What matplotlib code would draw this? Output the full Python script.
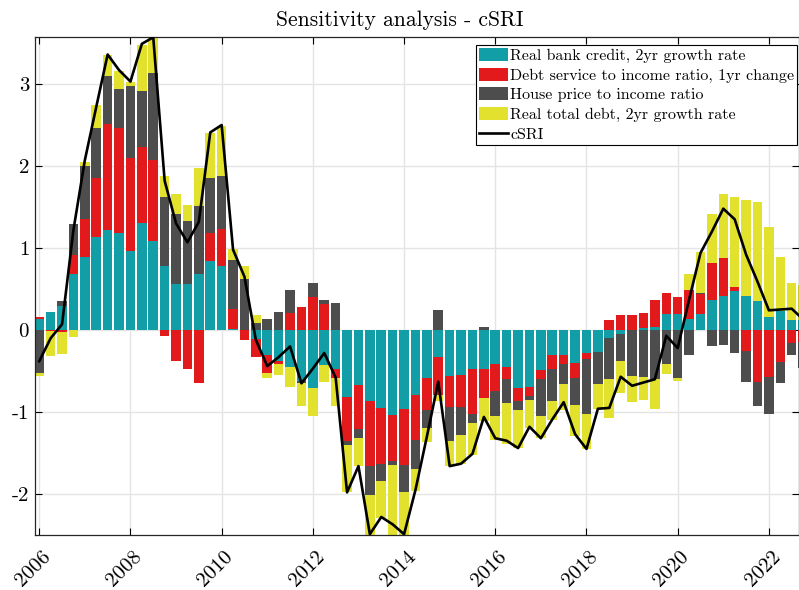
import numpy as np
import matplotlib
matplotlib.use("Agg")
import matplotlib.pyplot as plt
import matplotlib.transforms as mtransforms

plt.rcParams["font.family"] = "serif"
plt.rcParams["font.serif"] = ["cmr10"]
plt.rcParams["mathtext.fontset"] = "cm"
plt.rcParams["axes.unicode_minus"] = False
plt.rcParams["axes.formatter.use_mathtext"] = False

# quarterly dates, 2006Q1 .. 2022Q4
dates = 2006 + np.arange(68) * 0.25

bank_credit = [0.14, 0.22, 0.29, 0.68, 0.89, 1.14, 1.22, 1.18, 0.96, 1.31, 1.09, 0.78,
               0.56, 0.56, 0.68, 0.84, 0.78, 0.01, 0.00, -0.11, -0.30, -0.38, -0.45, -0.62,
               -0.71, -0.43, -0.47, -0.82, -0.67, -0.86, -0.95, -1.04, -0.96, -0.79, -0.59, -0.33,
               -0.56, -0.55, -0.48, -0.47, -0.42, -0.45, -0.71, -0.70, -0.49, -0.31, -0.31, -0.40,
               -0.28, -0.27, -0.10, -0.05, 0.00, 0.03, 0.04, 0.19, 0.20, 0.13, 0.19, 0.36,
               0.42, 0.48, 0.42, 0.35, 0.16, 0.23, 0.12, 0.12]
debt_service = [0.02, -0.01, -0.03, 0.23, 0.46, 0.72, 1.29, 1.28, 1.14, 0.92, 0.98, -0.07,
                -0.38, -0.48, -0.65, 0.34, 0.45, 0.25, -0.12, -0.22, -0.22, -0.04, 0.21, 0.28,
                0.40, 0.32, -0.12, -0.53, -0.54, -0.80, -0.69, -0.56, -0.69, -0.55, -0.38, -0.46,
                -0.38, -0.39, -0.55, -0.36, -0.32, -0.15, -0.15, -0.11, -0.11, -0.17, -0.11, -0.18,
                -0.07, 0.00, 0.12, 0.18, 0.18, 0.18, 0.32, 0.26, 0.20, 0.36, 0.25, 0.46,
                0.46, 0.05, -0.25, -0.64, -0.57, -0.39, -0.16, -0.15]
house_price = [-0.52, 0.00, 0.06, 0.38, 0.65, 0.60, 0.59, 0.48, 0.87, 0.68, 1.07, 0.84,
               0.86, 0.77, 0.83, 0.67, 0.65, 0.60, 0.62, 0.09, 0.14, 0.22, 0.28, -0.03,
               0.17, 0.04, 0.33, -0.05, -0.11, -0.35, -0.20, -0.05, -0.32, -0.36, -0.22, 0.25,
               -0.41, -0.34, -0.11, 0.04, -0.31, -0.29, -0.11, -0.04, -0.45, -0.39, -0.24, -0.34,
               -0.67, -0.39, -0.50, -0.33, -0.56, -0.57, -0.60, -0.41, -0.58, -0.31, 0.01, -0.19,
               -0.18, -0.28, -0.39, -0.29, -0.46, -0.26, -0.15, -0.31]
total_debt = [-0.04, -0.31, -0.26, -0.09, 0.05, 0.28, 0.26, 0.22, 0.05, 0.57, 0.45, 0.26,
              0.24, 0.20, 0.47, 0.55, 0.61, 0.13, 0.16, 0.09, -0.07, -0.13, -0.25, -0.28,
              -0.34, -0.21, -0.34, -0.58, -0.34, -0.50, -0.45, -0.90, -0.55, -0.26, -0.18, -0.08,
              -0.31, -0.35, -0.38, -0.28, -0.29, -0.50, -0.47, -0.34, -0.27, -0.23, -0.31, -0.37,
              -0.43, -0.30, -0.47, -0.39, -0.32, -0.28, -0.36, -0.13, -0.04, 0.19, 0.50, 0.59,
              0.78, 1.09, 1.17, 1.21, 1.10, 0.66, 0.45, 0.43]
csri = [-0.38, -0.10, 0.07, 1.22, 2.07, 2.72, 3.36, 3.17, 3.03, 3.49, 3.57, 1.82,
        1.30, 1.07, 1.32, 2.41, 2.50, 0.98, 0.65, -0.12, -0.44, -0.33, -0.20, -0.65,
        -0.47, -0.28, -0.58, -1.98, -1.66, -2.49, -2.28, -2.37, -2.49, -1.95, -1.30, -0.63,
        -1.66, -1.63, -1.51, -1.06, -1.32, -1.35, -1.44, -1.18, -1.32, -1.09, -0.88, -1.27,
        -1.45, -0.96, -0.95, -0.57, -0.68, -0.64, -0.60, -0.07, -0.22, 0.37, 0.94, 1.20,
        1.48, 1.35, 0.92, 0.59, 0.24, 0.25, 0.26, 0.13]

series = [
    ("Real bank credit, 2yr growth rate", bank_credit, "#119ea6"),
    ("Debt service to income ratio, 1yr change", debt_service, "#e31a1c"),
    ("House price to income ratio", house_price, "#4d4d4d"),
    ("Real total debt, 2yr growth rate", total_debt, "#e1e12e"),
]

fig = plt.figure(figsize=(7.99, 5.90), dpi=100)
ax = fig.add_axes([0.0434, 0.0932, 0.9566, 0.8436])

# stacked bars, positives and negatives stacked separately
pos_bottom = np.zeros(len(dates))
neg_bottom = np.zeros(len(dates))
handles = []
for name, vals, col in series:
    vals = np.array(vals)
    bottom = np.where(vals >= 0, pos_bottom, neg_bottom)
    b = ax.bar(dates, vals, width=0.21, bottom=bottom, color=col, label=name,
               edgecolor="none", zorder=2)
    handles.append(b)
    pos_bottom += np.clip(vals, 0, None)
    neg_bottom += np.clip(vals, None, 0)

line, = ax.plot(dates, csri, color="black", linewidth=1.9, label="cSRI", zorder=3)
handles.append(line)

ax.set_xlim(2005.9, 2022.66)
ax.set_ylim(-2.5, 3.57)
ax.set_xticks(np.arange(2006, 2023, 2))
ax.set_yticks(np.arange(-2, 4, 1))
ax.grid(True, color="#e4e4e4", linewidth=1.0)
ax.set_axisbelow(True)
ax.tick_params(direction="in", top=True, right=True, length=5, labelsize=15, pad=4)
ax.tick_params(axis="x", pad=9)
for lab in ax.get_xticklabels():
    lab.set_rotation(45)
    lab.set_ha("center")
    lab.set_transform(lab.get_transform() + mtransforms.ScaledTranslation(-0.06, 0, fig.dpi_scale_trans))
for sp in ax.spines.values():
    sp.set_color("#262626")
    sp.set_linewidth(0.9)

ax.set_title("Sensitivity analysis - cSRI", fontsize=15.5, pad=8, x=0.478)

leg = ax.legend(handles=handles, loc="upper right", bbox_to_anchor=(0.998, 0.985),
                fontsize=11.5, frameon=True, fancybox=False, framealpha=1,
                edgecolor="black", handlelength=1.8, handleheight=0.9,
                handletextpad=0.15, labelspacing=0.28, borderpad=0.2, borderaxespad=0)
leg.get_frame().set_linewidth(0.8)

fig.savefig("out.png", dpi=100)
